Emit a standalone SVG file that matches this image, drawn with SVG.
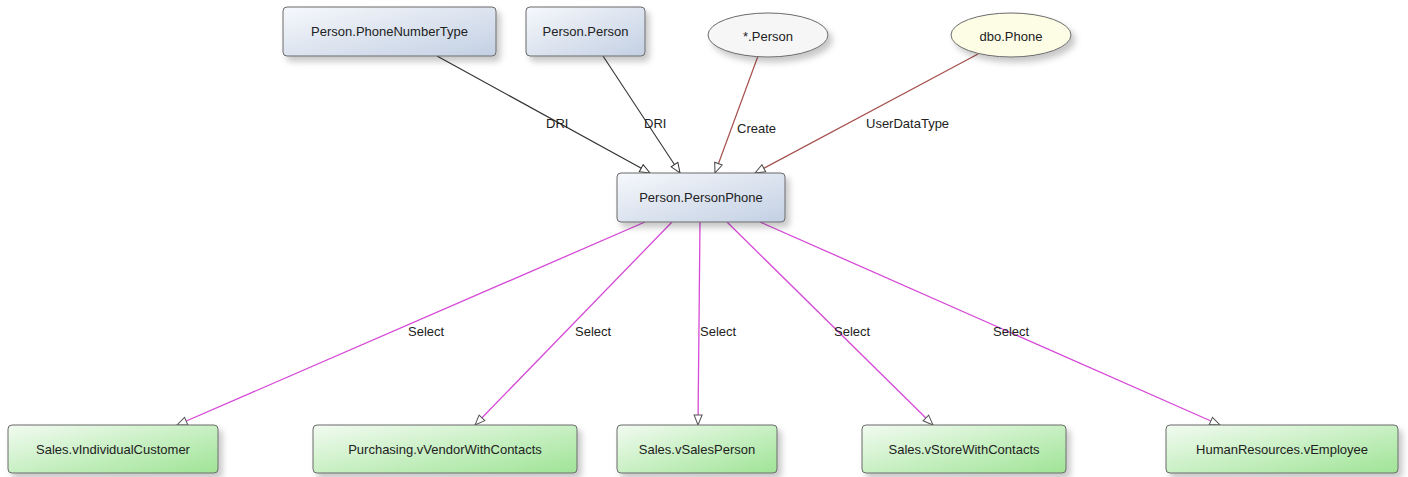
<svg xmlns="http://www.w3.org/2000/svg" width="1408" height="477" viewBox="0 0 1408 477">
<defs>
<linearGradient id="gBlue" x1="0" y1="0" x2="1" y2="1">
<stop offset="0" stop-color="#f6f8fc"/>
<stop offset="1" stop-color="#c3d0e3"/>
</linearGradient>
<linearGradient id="gGreen" x1="0" y1="0" x2="1" y2="1">
<stop offset="0" stop-color="#f2fbf1"/>
<stop offset="1" stop-color="#9fe496"/>
</linearGradient>
<filter id="sh" x="-20%" y="-30%" width="150%" height="190%">
<feDropShadow dx="4" dy="5" stdDeviation="3" flood-color="#000" flood-opacity="0.22"/>
</filter>
<marker id="aDark" viewBox="0 0 12 10" refX="11" refY="5" markerWidth="12" markerHeight="10" markerUnits="userSpaceOnUse" orient="auto">
<path d="M1,1 L11,5 L1,9 z" fill="#fff" stroke="#333" stroke-width="1"/>
</marker>
<marker id="aRed" viewBox="0 0 12 10" refX="11" refY="5" markerWidth="12" markerHeight="10" markerUnits="userSpaceOnUse" orient="auto">
<path d="M1,1 L11,5 L1,9 z" fill="#fff" stroke="#444" stroke-width="1"/>
</marker>
<marker id="aSel" viewBox="0 0 12 10" refX="11" refY="5" markerWidth="12" markerHeight="10" markerUnits="userSpaceOnUse" orient="auto">
<path d="M1,1 L11,5 L1,9 z" fill="#fff" stroke="#555" stroke-width="1"/>
</marker>
</defs>
<style>
text { font-family: "Liberation Sans", Arial, sans-serif; font-size: 13px; fill: #222; }
.lbl { text-anchor: middle; dominant-baseline: central; }
.box { stroke: #6a6a6a; stroke-width: 1; filter: url(#sh); }
.blue { fill: url(#gBlue); }
.green { fill: url(#gGreen); }
.dri { stroke: #333; stroke-width: 1.1; fill: none; marker-end: url(#aDark); }
.red { stroke: #a4504c; stroke-width: 1.2; fill: none; marker-end: url(#aRed); }
.sel { stroke: #d64ad6; stroke-width: 1.3; fill: none; marker-end: url(#aSel); }
</style>
<rect width="1408" height="477" fill="#fff"/>

<g id="connectors">
<line class="dri" x1="437" y1="56" x2="650" y2="173"/>
<line class="dri" x1="603" y1="56" x2="680" y2="173"/>
<line class="red" x1="758" y1="56" x2="715" y2="173"/>
<line class="red" x1="978" y1="54" x2="755" y2="173"/>
<line class="sel" x1="645" y1="222" x2="177" y2="425"/>
<line class="sel" x1="672" y1="222" x2="475" y2="425"/>
<line class="sel" x1="700" y1="222" x2="698" y2="425"/>
<line class="sel" x1="727" y1="222" x2="933" y2="425"/>
<line class="sel" x1="760" y1="222" x2="1220" y2="425"/>
<text x="546" y="128">DRI</text>
<text x="644" y="128">DRI</text>
<text x="737" y="133">Create</text>
<text x="866" y="128">UserDataType</text>
<text x="408" y="336">Select</text>
<text x="575" y="336">Select</text>
<text x="700" y="336">Select</text>
<text x="834" y="336">Select</text>
<text x="993" y="336">Select</text>
</g>

<g id="node-phonenumbertype">
<rect class="box blue" x="283" y="7" width="213" height="49" rx="4"/>
<text class="lbl" x="389.5" y="31.5">Person.PhoneNumberType</text>
</g>
<g id="node-person">
<rect class="box blue" x="526" y="7" width="119" height="49" rx="4"/>
<text class="lbl" x="585.5" y="31.5">Person.Person</text>
</g>
<g id="node-star-person">
<ellipse class="box" cx="768" cy="35" rx="60" ry="22" fill="#f6f6f6"/>
<text class="lbl" x="768" y="36">*.Person</text>
</g>
<g id="node-dbo-phone">
<ellipse class="box" cx="1011" cy="35" rx="60" ry="22" fill="#fdfde6"/>
<text class="lbl" x="1011" y="36">dbo.Phone</text>
</g>
<g id="node-personphone">
<rect class="box blue" x="617" y="173" width="168" height="49" rx="4"/>
<text class="lbl" x="701" y="197.5">Person.PersonPhone</text>
</g>
<g id="node-vindividualcustomer">
<rect class="box green" x="8" y="425" width="210" height="48" rx="4"/>
<text class="lbl" x="113" y="449">Sales.vIndividualCustomer</text>
</g>
<g id="node-vvendorwithcontacts">
<rect class="box green" x="313" y="425" width="264" height="48" rx="4"/>
<text class="lbl" x="445" y="449">Purchasing.vVendorWithContacts</text>
</g>
<g id="node-vsalesperson">
<rect class="box green" x="617" y="425" width="160" height="48" rx="4"/>
<text class="lbl" x="697" y="449">Sales.vSalesPerson</text>
</g>
<g id="node-vstorewithcontacts">
<rect class="box green" x="862" y="425" width="204" height="48" rx="4"/>
<text class="lbl" x="964" y="449">Sales.vStoreWithContacts</text>
</g>
<g id="node-vemployee">
<rect class="box green" x="1166" y="425" width="232" height="48" rx="4"/>
<text class="lbl" x="1282" y="449">HumanResources.vEmployee</text>
</g>
</svg>
